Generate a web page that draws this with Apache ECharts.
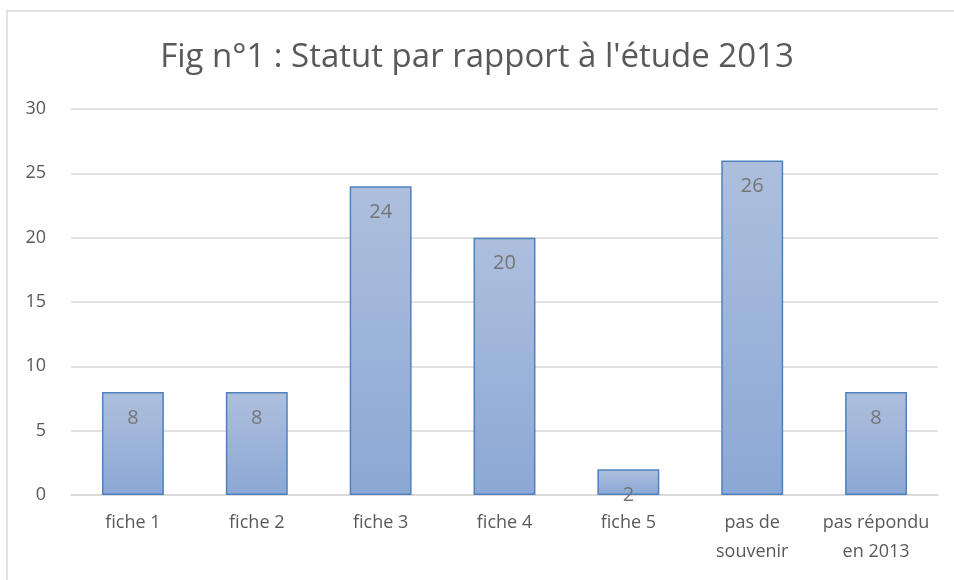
<!DOCTYPE html>
<html>
<head>
<meta charset="utf-8">
<script src="https://cdn.jsdelivr.net/npm/echarts@6/dist/echarts.min.js"></script>
<style>
html, body { margin: 0; padding: 0; background: #fff; }
#main { width: 954px; height: 580px; }
</style>
</head>
<body>
<div id="main"></div>
<script>
// données du graphique
var categories = ['fiche 1', 'fiche 2', 'fiche 3', 'fiche 4', 'fiche 5', 'pas de\nsouvenir', 'pas répondu\nen 2013'];
var values = [8, 8, 24, 20, 2, 26, 8];
var titleText = "Fig n°1 : Statut par rapport à l'étude 2013";

var chart = echarts.init(document.getElementById('main'));
var font = '"Open Sans", "Noto Sans", sans-serif';

chart.setOption({
    animation: false,
    textStyle: { fontFamily: font },
    graphic: [{
        type: 'rect',
        shape: { x: 7, y: 11, width: 960, height: 590 },
        style: { fill: 'none', stroke: '#d9d9d9', lineWidth: 1.5 },
        silent: true
    }],
    title: {
        text: titleText,
        left: 'center',
        top: 36,
        textStyle: { fontFamily: font, fontSize: 33, fontWeight: 'normal', color: '#595959' }
    },
    grid: { left: 71, right: 16, top: 109, bottom: 85 },
    xAxis: {
        type: 'category',
        data: categories,
        axisLine: { lineStyle: { color: '#d9d9d9', width: 1.5 } },
        axisTick: { show: false },
        axisLabel: { color: '#595959', fontSize: 18, fontFamily: font, lineHeight: 29, margin: 13, interval: 0 }
    },
    yAxis: {
        type: 'value',
        min: 0,
        max: 30,
        interval: 5,
        axisLine: { show: false },
        axisTick: { show: false },
        splitLine: { lineStyle: { color: '#d9d9d9', width: 1.5 } },
        axisLabel: { color: '#595959', fontSize: 18, fontFamily: font, margin: 25 }
    },
    series: [{
        type: 'bar',
        data: values,
        barWidth: '50%',
        itemStyle: {
            color: new echarts.graphic.LinearGradient(0, 0, 0, 1, [
                { offset: 0, color: '#adbfdd' },
                { offset: 1, color: '#8ca8d5' }
            ]),
            borderColor: '#4f81bd',
            borderWidth: 1.5
        },
        label: {
            show: true,
            position: 'insideTop',
            distance: 16,
            color: '#757575',
            fontSize: 20,
            fontFamily: font
        }
    }]
});
</script>
</body>
</html>
